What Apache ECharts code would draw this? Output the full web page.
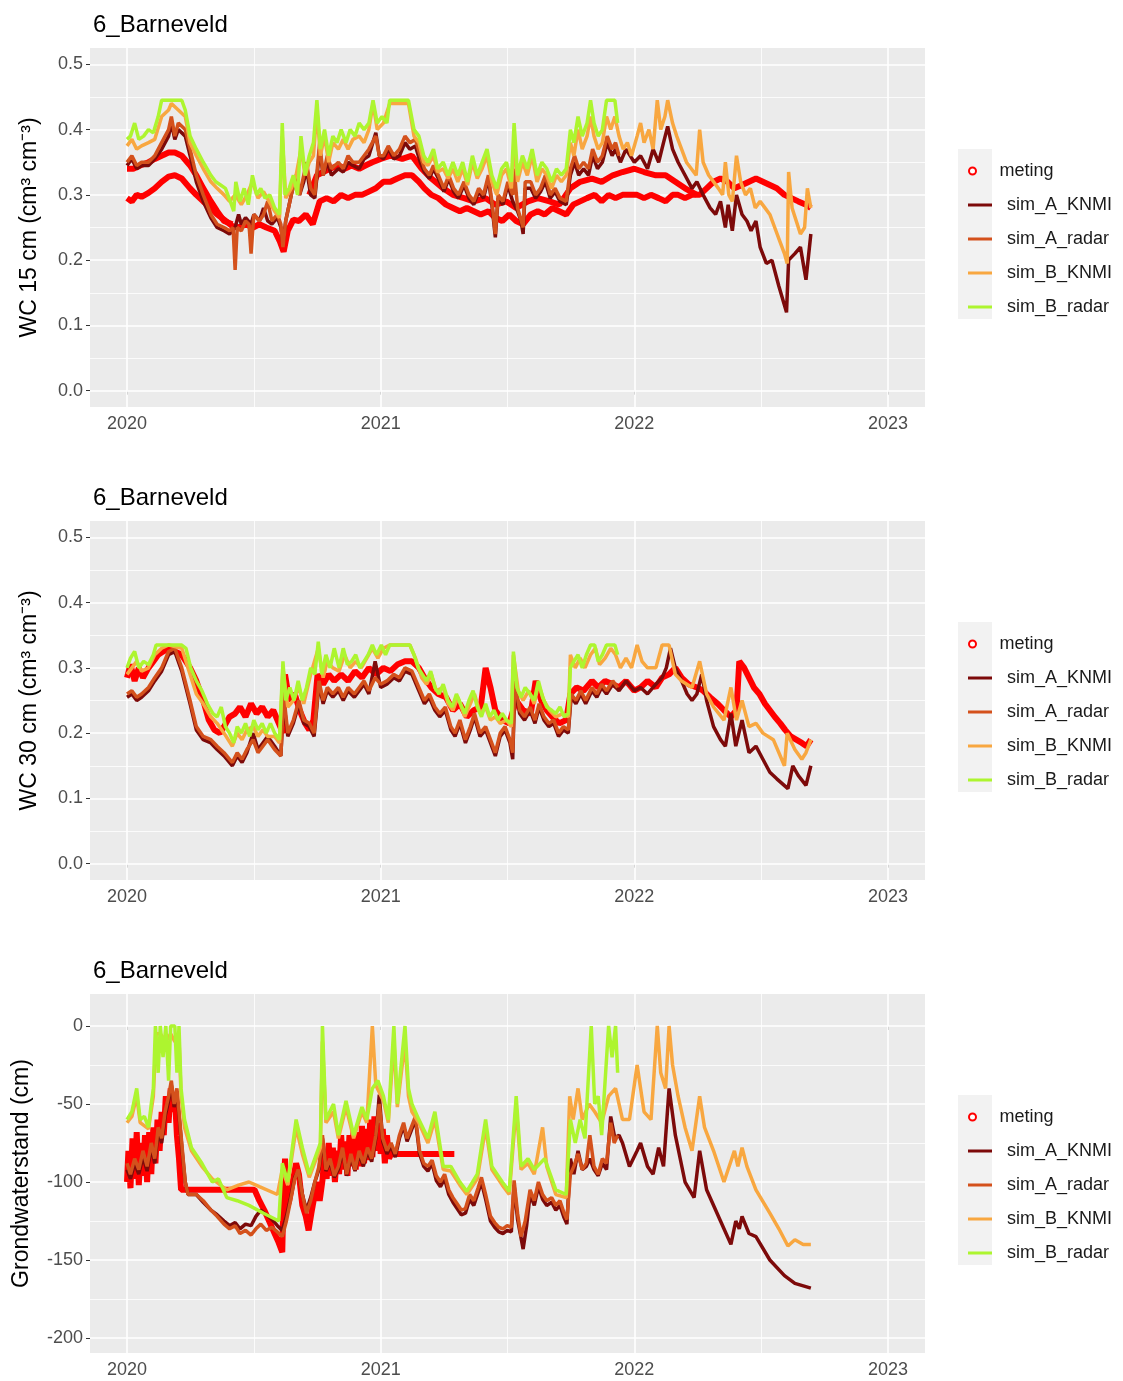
<!DOCTYPE html>
<html><head><meta charset="utf-8">
<script src="https://cdn.jsdelivr.net/npm/echarts/dist/echarts.min.js"></script>
<style>html,body{margin:0;padding:0;background:#fff}#c{width:1123px;height:1381px}</style>
</head><body><div id="c"></div>
<script>
// ---------------- DATA ----------------
const seriesNames = ['meting','sim_A_KNMI','sim_A_radar','sim_B_KNMI','sim_B_radar'];
const panelTitles = ['6_Barneveld','6_Barneveld','6_Barneveld'];
const yAxisTitles = ['WC 15 cm (cm³ cm⁻³)','WC 30 cm (cm³ cm⁻³)','Grondwaterstand (cm)'];
const xTickYears = [2020,2021,2022,2023];
const xMinorYears = [2020.5,2021.5,2022.5];
const yTicksWC = [0,0.1,0.2,0.3,0.4,0.5];
const yMinorWC = [0.05,0.15,0.25,0.35,0.45];
const yTicksGW = [-200,-150,-100,-50,0];
const yMinorGW = [-175,-125,-75,-25];

// ---- Panel 1 : WC 15 cm ----
const p1_meting_lo = [['2020-01-01',0.295],['2020-01-08',0.29],['2020-01-15',0.30],['2020-01-22',0.297],['2020-02-01',0.303],['2020-02-10',0.31],['2020-02-20',0.32],['2020-03-01',0.328],['2020-03-10',0.33],['2020-03-20',0.325],['2020-04-01',0.31],['2020-04-10',0.30],['2020-04-20',0.29],['2020-05-01',0.28],['2020-05-10',0.27],['2020-05-20',0.262],['2020-06-01',0.252],['2020-06-10',0.25],['2020-06-20',0.255],['2020-07-01',0.25],['2020-07-10',0.255],['2020-07-20',0.25],['2020-08-01',0.245],['2020-08-08',0.23],['2020-08-14',0.213],['2020-08-20',0.245],['2020-08-28',0.262],['2020-09-05',0.26],['2020-09-15',0.27],['2020-09-25',0.255],['2020-10-05',0.29],['2020-10-15',0.295],['2020-10-25',0.29],['2020-11-05',0.30],['2020-11-15',0.295],['2020-11-25',0.30],['2020-12-05',0.30],['2020-12-15',0.305],['2020-12-25',0.31],['2021-01-05',0.32],['2021-01-15',0.32],['2021-01-25',0.325],['2021-02-05',0.33],['2021-02-15',0.33],['2021-02-25',0.32],['2021-03-05',0.31],['2021-03-15',0.30],['2021-03-25',0.295],['2021-04-05',0.285],['2021-04-15',0.28],['2021-04-25',0.275],['2021-05-05',0.28],['2021-05-15',0.275],['2021-05-25',0.27],['2021-06-05',0.275],['2021-06-15',0.265],['2021-06-25',0.26],['2021-07-05',0.27],['2021-07-15',0.26],['2021-07-25',0.255],['2021-08-05',0.27],['2021-08-15',0.275],['2021-08-25',0.27],['2021-09-05',0.28],['2021-09-15',0.275],['2021-09-25',0.27],['2021-10-05',0.285],['2021-10-15',0.29],['2021-10-25',0.295],['2021-11-05',0.30],['2021-11-15',0.29],['2021-11-25',0.30],['2021-12-05',0.295],['2021-12-15',0.30],['2021-12-25',0.30],['2022-01-05',0.30],['2022-01-15',0.295],['2022-01-25',0.30],['2022-02-05',0.295],['2022-02-15',0.29],['2022-02-25',0.30],['2022-03-05',0.30],['2022-03-15',0.295],['2022-03-25',0.30],['2022-04-05',0.30],['2022-04-15',0.31],['2022-04-25',0.32],['2022-05-05',0.325],['2022-05-15',0.32],['2022-05-25',0.31],['2022-06-05',0.315],['2022-06-15',0.32],['2022-06-25',0.325],['2022-07-05',0.32],['2022-07-15',0.315],['2022-07-25',0.31],['2022-08-05',0.30],['2022-08-15',0.295],['2022-08-25',0.29],['2022-09-05',0.285],['2022-09-12',0.28]];
const p1_meting_hi = [['2020-01-01',0.34],['2020-01-10',0.34],['2020-01-20',0.345],['2020-02-01',0.35],['2020-02-10',0.355],['2020-02-20',0.36],['2020-03-01',0.365],['2020-03-10',0.365],['2020-03-20',0.36],['2020-04-01',0.345],['2020-04-10',0.33],['2020-04-20',0.31],['2020-05-01',0.29],['2020-05-10',0.275],['2020-05-20',0.26],['2020-06-01',0.255],['2020-07-01',null],['2020-09-20',0.30],['2020-10-01',0.33],['2020-10-10',0.335],['2020-10-20',0.34],['2020-11-01',0.345],['2020-11-10',0.34],['2020-11-20',0.345],['2020-12-01',0.34],['2020-12-10',0.345],['2020-12-20',0.35],['2021-01-01',0.355],['2021-01-15',0.36],['2021-02-01',0.355],['2021-02-15',0.36],['2021-03-01',0.34],['2021-03-15',0.325],['2021-04-01',0.31],['2021-04-15',0.30],['2021-05-01',0.295],['2021-05-15',0.29],['2021-06-01',0.295],['2021-06-15',0.285],['2021-07-01',0.29],['2021-07-15',0.28],['2021-08-01',0.29],['2021-08-15',0.295],['2021-09-01',0.29],['2021-09-15',0.285],['2021-10-01',0.31],['2021-10-15',0.32],['2021-11-01',0.325],['2021-11-15',0.32],['2021-12-01',0.33],['2021-12-15',0.335],['2022-01-01',0.34],['2022-01-15',0.335],['2022-02-01',0.33],['2022-02-15',0.33],['2022-03-01',0.32],['2022-03-15',0.31],['2022-04-01',0.30]];
const p1_A_KNMI = [['2020-01-01',0.345],['2020-01-08',0.355],['2020-01-15',0.34],['2020-01-22',0.345],['2020-02-01',0.345],['2020-02-10',0.355],['2020-02-20',0.37],['2020-03-01',0.39],['2020-03-05',0.41],['2020-03-10',0.385],['2020-03-15',0.40],['2020-03-25',0.39],['2020-04-01',0.36],['2020-04-10',0.32],['2020-04-20',0.29],['2020-05-01',0.265],['2020-05-10',0.25],['2020-05-20',0.245],['2020-05-28',0.24],['2020-06-05',0.25],['2020-06-10',0.27],['2020-06-14',0.255],['2020-06-20',0.265],['2020-06-28',0.255],['2020-07-02',0.27],['2020-07-10',0.26],['2020-07-16',0.28],['2020-07-22',0.26],['2020-07-28',0.255],['2020-08-05',0.265],['2020-08-10',0.25],['2020-08-13',0.225],['2020-08-17',0.26],['2020-08-25',0.30],['2020-09-01',0.33],['2020-09-06',0.30],['2020-09-12',0.32],['2020-09-16',0.34],['2020-09-22',0.30],['2020-09-28',0.295],['2020-10-05',0.37],['2020-10-10',0.33],['2020-10-16',0.35],['2020-10-22',0.33],['2020-11-01',0.34],['2020-11-08',0.335],['2020-11-15',0.35],['2020-11-22',0.345],['2020-12-01',0.34],['2020-12-08',0.355],['2020-12-15',0.36],['2020-12-25',0.395],['2020-12-30',0.36],['2021-01-05',0.355],['2021-01-12',0.37],['2021-01-20',0.355],['2021-01-28',0.36],['2021-02-05',0.38],['2021-02-12',0.37],['2021-02-20',0.375],['2021-02-27',0.35],['2021-03-05',0.335],['2021-03-12',0.325],['2021-03-18',0.34],['2021-03-25',0.325],['2021-04-02',0.305],['2021-04-09',0.325],['2021-04-16',0.305],['2021-04-23',0.295],['2021-05-01',0.315],['2021-05-08',0.295],['2021-05-15',0.285],['2021-05-22',0.305],['2021-05-29',0.295],['2021-06-05',0.325],['2021-06-10',0.285],['2021-06-15',0.235],['2021-06-19',0.295],['2021-06-26',0.285],['2021-07-03',0.315],['2021-07-10',0.29],['2021-07-17',0.275],['2021-07-22',0.26],['2021-07-25',0.24],['2021-07-28',0.31],['2021-08-05',0.31],['2021-08-12',0.295],['2021-08-19',0.305],['2021-08-26',0.32],['2021-09-02',0.295],['2021-09-09',0.305],['2021-09-16',0.29],['2021-09-25',0.285],['2021-10-01',0.33],['2021-10-07',0.35],['2021-10-13',0.33],['2021-10-20',0.34],['2021-10-27',0.33],['2021-11-02',0.36],['2021-11-09',0.34],['2021-11-16',0.35],['2021-11-23',0.38],['2021-11-30',0.36],['2021-12-05',0.37],['2021-12-12',0.35],['2021-12-20',0.37],['2022-01-01',0.35],['2022-01-10',0.36],['2022-01-20',0.34],['2022-01-28',0.37],['2022-02-05',0.35],['2022-02-12',0.38],['2022-02-18',0.405],['2022-02-25',0.37],['2022-03-05',0.35],['2022-03-15',0.33],['2022-03-25',0.31],['2022-04-01',0.32],['2022-04-10',0.30],['2022-04-20',0.28],['2022-04-28',0.27],['2022-05-05',0.29],['2022-05-12',0.25],['2022-05-16',0.285],['2022-05-22',0.245],['2022-05-28',0.30],['2022-06-05',0.27],['2022-06-12',0.26],['2022-06-18',0.245],['2022-06-25',0.26],['2022-07-01',0.22],['2022-07-10',0.195],['2022-07-18',0.20],['2022-07-28',0.16],['2022-08-08',0.12],['2022-08-11',0.20],['2022-08-20',0.21],['2022-08-28',0.22],['2022-09-05',0.17],['2022-09-12',0.24]];
const p1_A_radar = [['2020-01-01',0.35],['2020-01-08',0.36],['2020-01-15',0.345],['2020-01-22',0.35],['2020-02-01',0.35],['2020-02-10',0.36],['2020-02-20',0.38],['2020-03-01',0.40],['2020-03-05',0.42],['2020-03-10',0.39],['2020-03-15',0.41],['2020-03-25',0.40],['2020-04-01',0.37],['2020-04-10',0.33],['2020-04-20',0.30],['2020-05-01',0.27],['2020-05-10',0.255],['2020-05-20',0.25],['2020-05-28',0.245],['2020-06-02',0.25],['2020-06-05',0.185],['2020-06-08',0.25],['2020-06-14',0.245],['2020-06-20',0.26],['2020-06-25',0.255],['2020-06-28',0.21],['2020-07-02',0.27],['2020-07-10',0.26],['2020-07-16',0.27],['2020-07-22',0.29],['2020-07-28',0.26],['2020-08-05',0.27],['2020-08-10',0.255],['2020-08-13',0.22],['2020-08-17',0.26],['2020-08-25',0.30],['2020-09-01',0.33],['2020-09-06',0.30],['2020-09-12',0.33],['2020-09-16',0.35],['2020-09-22',0.31],['2020-09-28',0.30],['2020-10-05',0.38],['2020-10-10',0.33],['2020-10-16',0.36],['2020-10-22',0.34],['2020-11-01',0.35],['2020-11-08',0.34],['2020-11-15',0.36],['2020-11-22',0.35],['2020-12-01',0.35],['2020-12-08',0.36],['2020-12-15',0.37],['2020-12-25',0.39],['2020-12-30',0.36],['2021-01-05',0.36],['2021-01-12',0.375],['2021-01-20',0.36],['2021-01-28',0.37],['2021-02-05',0.39],['2021-02-12',0.38],['2021-02-20',0.385],['2021-02-27',0.36],['2021-03-05',0.34],['2021-03-12',0.33],['2021-03-18',0.345],['2021-03-25',0.33],['2021-04-02',0.31],['2021-04-09',0.33],['2021-04-16',0.31],['2021-04-23',0.30],['2021-05-01',0.32],['2021-05-08',0.30],['2021-05-15',0.29],['2021-05-22',0.31],['2021-05-29',0.30],['2021-06-05',0.33],['2021-06-10',0.29],['2021-06-15',0.24],['2021-06-19',0.30],['2021-06-26',0.29],['2021-07-03',0.32],['2021-07-10',0.30],['2021-07-12',0.34],['2021-07-17',0.28],['2021-07-25',0.25],['2021-07-28',0.32],['2021-08-05',0.32],['2021-08-12',0.30],['2021-08-19',0.31],['2021-08-26',0.33],['2021-09-02',0.30],['2021-09-09',0.31],['2021-09-16',0.295],['2021-09-25',0.29],['2021-10-01',0.34],['2021-10-07',0.36],['2021-10-13',0.34],['2021-10-20',0.35],['2021-10-27',0.34],['2021-11-02',0.37],['2021-11-09',0.35],['2021-11-16',0.36],['2021-11-23',0.39],['2021-11-30',0.37],['2021-12-05',0.38],['2021-12-10',0.36]];
const p1_B_KNMI = [['2020-01-01',0.375],['2020-01-08',0.385],['2020-01-15',0.37],['2020-01-22',0.375],['2020-02-01',0.38],['2020-02-10',0.385],['2020-02-20',0.42],['2020-03-01',0.43],['2020-03-05',0.44],['2020-03-15',0.43],['2020-03-25',0.42],['2020-04-01',0.38],['2020-04-10',0.36],['2020-04-20',0.34],['2020-05-01',0.32],['2020-05-10',0.31],['2020-05-20',0.30],['2020-05-28',0.29],['2020-06-05',0.30],['2020-06-14',0.285],['2020-06-22',0.30],['2020-06-30',0.32],['2020-07-08',0.295],['2020-07-16',0.305],['2020-07-24',0.29],['2020-08-01',0.275],['2020-08-08',0.265],['2020-08-12',0.39],['2020-08-17',0.295],['2020-08-25',0.31],['2020-09-01',0.33],['2020-09-08',0.37],['2020-09-14',0.33],['2020-09-20',0.35],['2020-09-26',0.36],['2020-10-01',0.43],['2020-10-06',0.36],['2020-10-12',0.39],['2020-10-18',0.35],['2020-10-24',0.38],['2020-11-01',0.37],['2020-11-08',0.385],['2020-11-15',0.37],['2020-11-22',0.385],['2020-12-01',0.39],['2020-12-08',0.38],['2020-12-15',0.40],['2020-12-21',0.44],['2020-12-27',0.40],['2021-01-05',0.41],['2021-01-14',0.44],['2021-02-10',0.44],['2021-02-18',0.39],['2021-02-25',0.38],['2021-03-04',0.35],['2021-03-10',0.345],['2021-03-18',0.36],['2021-03-24',0.335],['2021-04-01',0.34],['2021-04-08',0.325],['2021-04-15',0.34],['2021-04-22',0.32],['2021-04-29',0.34],['2021-05-06',0.315],['2021-05-13',0.35],['2021-05-20',0.325],['2021-05-27',0.34],['2021-06-03',0.36],['2021-06-10',0.32],['2021-06-17',0.30],['2021-06-24',0.33],['2021-07-01',0.34],['2021-07-08',0.31],['2021-07-12',0.38],['2021-07-17',0.32],['2021-07-24',0.35],['2021-07-31',0.33],['2021-08-07',0.36],['2021-08-14',0.32],['2021-08-21',0.34],['2021-08-28',0.33],['2021-09-04',0.31],['2021-09-11',0.33],['2021-09-18',0.32],['2021-09-25',0.33],['2021-10-01',0.38],['2021-10-06',0.36],['2021-10-12',0.40],['2021-10-18',0.37],['2021-10-25',0.39],['2021-10-30',0.42],['2021-11-04',0.39],['2021-11-10',0.37],['2021-11-16',0.38],['2021-11-22',0.42],['2021-11-28',0.40],['2021-12-04',0.42],['2021-12-10',0.39],['2021-12-16',0.37],['2021-12-22',0.38],['2021-12-28',0.36],['2022-01-05',0.39],['2022-01-10',0.41],['2022-01-15',0.38],['2022-01-22',0.40],['2022-01-28',0.37],['2022-02-03',0.445],['2022-02-08',0.40],['2022-02-14',0.42],['2022-02-18',0.445],['2022-02-25',0.41],['2022-03-03',0.39],['2022-03-10',0.37],['2022-03-17',0.35],['2022-03-24',0.34],['2022-03-31',0.33],['2022-04-05',0.40],['2022-04-10',0.35],['2022-04-18',0.33],['2022-04-25',0.32],['2022-05-02',0.31],['2022-05-08',0.30],['2022-05-12',0.35],['2022-05-17',0.30],['2022-05-22',0.29],['2022-05-28',0.36],['2022-06-03',0.32],['2022-06-10',0.30],['2022-06-17',0.31],['2022-06-24',0.28],['2022-07-01',0.29],['2022-07-08',0.28],['2022-07-15',0.27],['2022-07-22',0.25],['2022-07-29',0.23],['2022-08-05',0.21],['2022-08-09',0.195],['2022-08-11',0.335],['2022-08-16',0.28],['2022-08-22',0.26],['2022-08-28',0.24],['2022-09-03',0.25],['2022-09-07',0.31],['2022-09-12',0.28]];
const p1_B_radar = [['2020-01-01',0.385],['2020-01-06',0.39],['2020-01-12',0.41],['2020-01-18',0.385],['2020-01-25',0.39],['2020-02-01',0.40],['2020-02-08',0.395],['2020-02-15',0.42],['2020-02-20',0.445],['2020-03-20',0.445],['2020-03-25',0.43],['2020-04-01',0.39],['2020-04-10',0.37],['2020-04-20',0.35],['2020-05-01',0.33],['2020-05-08',0.32],['2020-05-15',0.315],['2020-05-22',0.31],['2020-05-29',0.29],['2020-06-03',0.275],['2020-06-06',0.32],['2020-06-12',0.29],['2020-06-18',0.31],['2020-06-24',0.285],['2020-06-30',0.33],['2020-07-06',0.30],['2020-07-12',0.31],['2020-07-18',0.295],['2020-07-25',0.30],['2020-08-01',0.28],['2020-08-08',0.27],['2020-08-12',0.41],['2020-08-16',0.30],['2020-08-22',0.31],['2020-08-28',0.33],['2020-09-03',0.30],['2020-09-08',0.39],['2020-09-14',0.33],['2020-09-20',0.36],['2020-09-26',0.38],['2020-10-01',0.445],['2020-10-06',0.37],['2020-10-12',0.40],['2020-10-18',0.36],['2020-10-24',0.39],['2020-10-30',0.38],['2020-11-05',0.40],['2020-11-12',0.38],['2020-11-18',0.40],['2020-11-25',0.39],['2020-12-01',0.41],['2020-12-08',0.40],['2020-12-15',0.41],['2020-12-21',0.445],['2020-12-27',0.41],['2021-01-03',0.42],['2021-01-10',0.41],['2021-01-14',0.445],['2021-02-10',0.445],['2021-02-18',0.40],['2021-02-25',0.39],['2021-03-04',0.36],['2021-03-10',0.35],['2021-03-18',0.37],['2021-03-24',0.34],['2021-04-01',0.35],['2021-04-08',0.33],['2021-04-15',0.35],['2021-04-22',0.33],['2021-04-29',0.35],['2021-05-06',0.32],['2021-05-13',0.36],['2021-05-20',0.33],['2021-05-27',0.35],['2021-06-03',0.37],['2021-06-10',0.33],['2021-06-17',0.31],['2021-06-24',0.34],['2021-07-01',0.35],['2021-07-08',0.32],['2021-07-12',0.41],['2021-07-17',0.33],['2021-07-24',0.36],['2021-07-31',0.34],['2021-08-07',0.37],['2021-08-14',0.33],['2021-08-21',0.35],['2021-08-28',0.34],['2021-09-04',0.32],['2021-09-11',0.34],['2021-09-18',0.33],['2021-09-25',0.34],['2021-10-01',0.40],['2021-10-06',0.38],['2021-10-12',0.42],['2021-10-18',0.39],['2021-10-25',0.41],['2021-10-30',0.445],['2021-11-04',0.41],['2021-11-10',0.39],['2021-11-16',0.40],['2021-11-22',0.445],['2021-12-04',0.445],['2021-12-08',0.41]];

// ---- Panel 2 : WC 30 cm ----
const p2_meting = [['2020-01-01',0.285],['2020-01-06',0.305],['2020-01-12',0.28],['2020-01-18',0.30],['2020-01-24',0.285],['2020-02-01',0.30],['2020-02-08',0.31],['2020-02-15',0.32],['2020-02-22',0.325],['2020-03-01',0.33],['2020-03-10',0.325],['2020-03-20',0.32],['2020-04-01',0.30],['2020-04-10',0.28],['2020-04-20',0.25],['2020-04-28',0.22],['2020-05-06',0.205],['2020-05-14',0.20],['2020-05-20',0.21],['2020-05-28',0.225],['2020-06-05',0.23],['2020-06-12',0.24],['2020-06-20',0.225],['2020-06-28',0.245],['2020-07-06',0.23],['2020-07-14',0.24],['2020-07-22',0.225],['2020-07-30',0.235],['2020-08-07',0.215],['2020-08-13',0.20],['2020-08-16',0.29],['2020-08-22',0.25],['2020-08-30',0.26],['2020-09-06',0.235],['2020-09-14',0.215],['2020-09-20',0.205],['2020-09-26',0.22],['2020-10-02',0.29],['2020-10-10',0.275],['2020-10-18',0.29],['2020-10-26',0.28],['2020-11-05',0.29],['2020-11-15',0.28],['2020-11-25',0.295],['2020-12-05',0.285],['2020-12-15',0.30],['2020-12-25',0.29],['2021-01-05',0.30],['2021-01-15',0.295],['2021-01-25',0.305],['2021-02-05',0.31],['2021-02-15',0.31],['2021-02-25',0.30],['2021-03-05',0.285],['2021-03-15',0.27],['2021-03-25',0.26],['2021-04-05',0.255],['2021-04-15',0.235],['2021-04-25',0.245],['2021-05-05',0.225],['2021-05-15',0.235],['2021-05-25',0.24],['2021-06-01',0.30],['2021-06-08',0.27],['2021-06-15',0.235],['2021-06-25',0.22],['2021-07-05',0.215],['2021-07-15',0.25],['2021-07-25',0.235],['2021-08-05',0.23],['2021-08-12',0.28],['2021-08-20',0.25],['2021-08-28',0.235],['2021-09-05',0.225],['2021-09-15',0.215],['2021-09-25',0.22],['2021-10-01',0.26],['2021-10-10',0.27],['2021-10-20',0.265],['2021-11-01',0.28],['2021-11-10',0.27],['2021-11-20',0.28],['2021-12-01',0.275],['2021-12-10',0.27],['2021-12-20',0.28],['2022-01-01',0.265],['2022-01-10',0.27],['2022-01-20',0.28],['2022-02-01',0.27],['2022-02-10',0.285],['2022-02-20',0.29],['2022-03-01',0.30],['2022-03-10',0.285],['2022-03-20',0.275],['2022-04-01',0.27],['2022-04-10',0.265],['2022-04-20',0.255],['2022-05-01',0.245],['2022-05-10',0.235],['2022-05-20',0.225],['2022-05-28',0.235],['2022-06-01',0.31],['2022-06-08',0.30],['2022-06-15',0.285],['2022-06-22',0.27],['2022-06-30',0.26],['2022-07-08',0.245],['2022-07-15',0.235],['2022-07-22',0.225],['2022-07-30',0.215],['2022-08-06',0.205],['2022-08-14',0.195],['2022-08-22',0.19],['2022-08-30',0.185],['2022-09-06',0.18],['2022-09-12',0.19]];
const p2_A_KNMI = [['2020-01-01',0.255],['2020-01-08',0.26],['2020-01-15',0.25],['2020-01-22',0.255],['2020-02-01',0.265],['2020-02-10',0.28],['2020-02-20',0.295],['2020-03-01',0.32],['2020-03-10',0.325],['2020-03-20',0.295],['2020-04-01',0.245],['2020-04-10',0.205],['2020-04-20',0.19],['2020-05-01',0.185],['2020-05-10',0.175],['2020-05-20',0.165],['2020-06-01',0.15],['2020-06-08',0.165],['2020-06-15',0.155],['2020-06-22',0.17],['2020-07-01',0.20],['2020-07-08',0.175],['2020-07-15',0.185],['2020-07-22',0.195],['2020-08-01',0.18],['2020-08-10',0.165],['2020-08-14',0.25],['2020-08-20',0.195],['2020-08-28',0.215],['2020-09-05',0.245],['2020-09-12',0.215],['2020-09-20',0.21],['2020-09-27',0.195],['2020-10-04',0.275],['2020-10-10',0.245],['2020-10-16',0.265],['2020-10-24',0.255],['2020-11-01',0.265],['2020-11-08',0.25],['2020-11-15',0.265],['2020-11-24',0.255],['2020-12-01',0.265],['2020-12-08',0.275],['2020-12-15',0.26],['2020-12-24',0.31],['2021-01-01',0.27],['2021-01-10',0.275],['2021-01-20',0.285],['2021-01-28',0.28],['2021-02-05',0.295],['2021-02-15',0.29],['2021-02-25',0.265],['2021-03-05',0.245],['2021-03-12',0.255],['2021-03-20',0.235],['2021-03-27',0.225],['2021-04-04',0.235],['2021-04-12',0.205],['2021-04-18',0.195],['2021-04-25',0.215],['2021-05-03',0.185],['2021-05-10',0.205],['2021-05-16',0.225],['2021-05-24',0.195],['2021-06-01',0.205],['2021-06-08',0.185],['2021-06-15',0.165],['2021-06-22',0.195],['2021-06-29',0.205],['2021-07-06',0.185],['2021-07-10',0.16],['2021-07-13',0.27],['2021-07-20',0.23],['2021-07-27',0.22],['2021-08-04',0.235],['2021-08-11',0.215],['2021-08-17',0.24],['2021-08-24',0.22],['2021-08-31',0.21],['2021-09-07',0.215],['2021-09-14',0.195],['2021-09-21',0.205],['2021-09-28',0.20],['2021-10-02',0.255],['2021-10-09',0.245],['2021-10-16',0.26],['2021-10-23',0.245],['2021-11-01',0.265],['2021-11-08',0.255],['2021-11-15',0.27],['2021-11-22',0.26],['2021-12-01',0.275],['2021-12-10',0.265],['2021-12-20',0.28],['2022-01-01',0.265],['2022-01-10',0.27],['2022-01-20',0.26],['2022-02-01',0.275],['2022-02-10',0.285],['2022-02-16',0.30],['2022-02-22',0.33],['2022-03-01',0.30],['2022-03-10',0.28],['2022-03-18',0.26],['2022-03-25',0.25],['2022-04-01',0.26],['2022-04-08',0.29],['2022-04-15',0.25],['2022-04-25',0.21],['2022-05-05',0.19],['2022-05-12',0.18],['2022-05-20',0.23],['2022-05-27',0.18],['2022-06-05',0.22],['2022-06-15',0.17],['2022-06-25',0.18],['2022-07-05',0.16],['2022-07-15',0.14],['2022-07-25',0.13],['2022-08-10',0.115],['2022-08-17',0.15],['2022-08-25',0.135],['2022-09-05',0.12],['2022-09-12',0.15]];
const p2_A_radar = [['2020-01-01',0.26],['2020-01-08',0.265],['2020-01-15',0.255],['2020-01-22',0.26],['2020-02-01',0.27],['2020-02-10',0.285],['2020-02-20',0.30],['2020-03-01',0.325],['2020-03-10',0.33],['2020-03-20',0.30],['2020-04-01',0.25],['2020-04-10',0.21],['2020-04-20',0.195],['2020-05-01',0.19],['2020-05-10',0.18],['2020-05-20',0.17],['2020-06-01',0.155],['2020-06-08',0.17],['2020-06-15',0.16],['2020-06-22',0.175],['2020-07-01',0.19],['2020-07-08',0.17],['2020-07-15',0.18],['2020-07-22',0.19],['2020-08-01',0.175],['2020-08-10',0.165],['2020-08-14',0.26],['2020-08-20',0.20],['2020-08-28',0.22],['2020-09-05',0.25],['2020-09-12',0.22],['2020-09-20',0.215],['2020-09-27',0.20],['2020-10-04',0.28],['2020-10-10',0.25],['2020-10-16',0.27],['2020-10-24',0.26],['2020-11-01',0.27],['2020-11-08',0.255],['2020-11-15',0.27],['2020-11-24',0.26],['2020-12-01',0.27],['2020-12-08',0.28],['2020-12-15',0.265],['2020-12-24',0.285],['2021-01-01',0.275],['2021-01-10',0.28],['2021-01-20',0.29],['2021-01-28',0.285],['2021-02-05',0.30],['2021-02-15',0.295],['2021-02-25',0.27],['2021-03-05',0.25],['2021-03-12',0.26],['2021-03-20',0.24],['2021-03-27',0.23],['2021-04-04',0.24],['2021-04-12',0.21],['2021-04-18',0.20],['2021-04-25',0.22],['2021-05-03',0.19],['2021-05-10',0.21],['2021-05-16',0.23],['2021-05-24',0.20],['2021-06-01',0.21],['2021-06-08',0.19],['2021-06-15',0.17],['2021-06-22',0.20],['2021-06-29',0.21],['2021-07-06',0.19],['2021-07-10',0.17],['2021-07-13',0.28],['2021-07-20',0.235],['2021-07-27',0.225],['2021-08-04',0.24],['2021-08-11',0.22],['2021-08-17',0.245],['2021-08-24',0.225],['2021-08-31',0.215],['2021-09-07',0.22],['2021-09-14',0.20],['2021-09-21',0.21],['2021-09-28',0.205],['2021-10-02',0.26],['2021-10-09',0.25],['2021-10-16',0.265],['2021-10-23',0.25],['2021-11-01',0.27],['2021-11-08',0.26],['2021-11-15',0.275],['2021-11-22',0.265],['2021-12-01',0.28],['2021-12-08',0.27]];
const p2_B_KNMI = [['2020-01-01',0.29],['2020-01-08',0.30],['2020-01-15',0.31],['2020-01-22',0.295],['2020-02-01',0.30],['2020-02-10',0.32],['2020-02-20',0.33],['2020-03-01',0.335],['2020-03-20',0.33],['2020-04-01',0.29],['2020-04-10',0.26],['2020-04-20',0.245],['2020-05-01',0.225],['2020-05-10',0.215],['2020-05-20',0.20],['2020-06-01',0.18],['2020-06-08',0.20],['2020-06-15',0.19],['2020-06-22',0.205],['2020-07-01',0.21],['2020-07-08',0.195],['2020-07-15',0.205],['2020-07-22',0.195],['2020-08-01',0.195],['2020-08-08',0.185],['2020-08-13',0.30],['2020-08-20',0.24],['2020-08-28',0.25],['2020-09-05',0.27],['2020-09-12',0.245],['2020-09-22',0.29],['2020-10-03',0.33],['2020-10-10',0.285],['2020-10-16',0.31],['2020-10-24',0.30],['2020-11-02',0.295],['2020-11-10',0.32],['2020-11-18',0.30],['2020-11-26',0.31],['2020-12-04',0.30],['2020-12-12',0.315],['2020-12-20',0.33],['2020-12-28',0.315],['2021-01-05',0.33],['2021-01-14',0.335],['2021-02-12',0.335],['2021-02-20',0.315],['2021-03-01',0.285],['2021-03-08',0.275],['2021-03-15',0.29],['2021-03-22',0.265],['2021-04-01',0.27],['2021-04-08',0.245],['2021-04-15',0.235],['2021-04-22',0.255],['2021-05-02',0.225],['2021-05-10',0.245],['2021-05-16',0.26],['2021-05-24',0.23],['2021-06-01',0.24],['2021-06-08',0.22],['2021-06-15',0.225],['2021-06-22',0.215],['2021-07-01',0.22],['2021-07-08',0.21],['2021-07-11',0.32],['2021-07-18',0.265],['2021-07-25',0.25],['2021-08-02',0.265],['2021-08-10',0.245],['2021-08-16',0.275],['2021-08-24',0.25],['2021-09-01',0.235],['2021-09-10',0.225],['2021-09-20',0.23],['2021-09-28',0.225],['2021-10-01',0.32],['2021-10-08',0.30],['2021-10-15',0.315],['2021-10-22',0.30],['2021-10-30',0.32],['2021-11-06',0.33],['2021-11-12',0.305],['2021-11-20',0.315],['2021-11-28',0.33],['2021-12-05',0.32],['2021-12-12',0.30],['2021-12-20',0.315],['2021-12-28',0.30],['2022-01-05',0.335],['2022-01-12',0.31],['2022-01-20',0.30],['2022-02-01',0.30],['2022-02-10',0.335],['2022-02-20',0.335],['2022-03-01',0.29],['2022-03-10',0.28],['2022-03-25',0.27],['2022-04-05',0.31],['2022-04-15',0.26],['2022-04-25',0.24],['2022-05-10',0.22],['2022-05-20',0.27],['2022-05-28',0.22],['2022-06-05',0.25],['2022-06-15',0.21],['2022-06-25',0.215],['2022-07-05',0.20],['2022-07-20',0.19],['2022-08-05',0.15],['2022-08-09',0.20],['2022-08-20',0.175],['2022-08-30',0.16],['2022-09-05',0.17],['2022-09-12',0.19]];
const p2_B_radar = [['2020-01-01',0.30],['2020-01-06',0.315],['2020-01-12',0.325],['2020-01-18',0.30],['2020-01-25',0.31],['2020-02-01',0.305],['2020-02-08',0.32],['2020-02-12',0.335],['2020-03-20',0.335],['2020-03-26',0.33],['2020-04-02',0.30],['2020-04-10',0.28],['2020-04-18',0.265],['2020-04-26',0.245],['2020-05-04',0.23],['2020-05-10',0.225],['2020-05-16',0.24],['2020-05-22',0.21],['2020-05-28',0.20],['2020-06-03',0.185],['2020-06-08',0.21],['2020-06-14',0.20],['2020-06-20',0.215],['2020-06-26',0.195],['2020-07-02',0.22],['2020-07-08',0.205],['2020-07-14',0.215],['2020-07-20',0.20],['2020-07-26',0.215],['2020-08-01',0.20],['2020-08-08',0.19],['2020-08-13',0.31],['2020-08-17',0.25],['2020-08-23',0.27],['2020-08-29',0.25],['2020-09-04',0.28],['2020-09-10',0.25],['2020-09-16',0.27],['2020-09-22',0.30],['2020-09-28',0.29],['2020-10-03',0.34],['2020-10-08',0.29],['2020-10-14',0.32],['2020-10-20',0.30],['2020-10-26',0.33],['2020-11-02',0.30],['2020-11-08',0.33],['2020-11-14',0.305],['2020-11-20',0.31],['2020-11-26',0.32],['2020-12-02',0.30],['2020-12-08',0.31],['2020-12-14',0.32],['2020-12-20',0.335],['2020-12-26',0.32],['2021-01-02',0.335],['2021-01-08',0.32],['2021-01-14',0.335],['2021-02-12',0.335],['2021-02-18',0.32],['2021-02-24',0.30],['2021-03-02',0.29],['2021-03-08',0.28],['2021-03-14',0.295],['2021-03-20',0.27],['2021-03-26',0.26],['2021-04-01',0.275],['2021-04-08',0.25],['2021-04-14',0.24],['2021-04-20',0.26],['2021-04-26',0.245],['2021-05-02',0.23],['2021-05-08',0.25],['2021-05-14',0.265],['2021-05-20',0.24],['2021-05-26',0.225],['2021-06-01',0.245],['2021-06-07',0.225],['2021-06-13',0.235],['2021-06-19',0.22],['2021-06-25',0.23],['2021-07-01',0.22],['2021-07-08',0.215],['2021-07-11',0.325],['2021-07-16',0.27],['2021-07-22',0.255],['2021-07-28',0.27],['2021-08-04',0.26],['2021-08-10',0.25],['2021-08-16',0.28],['2021-08-22',0.255],['2021-08-28',0.24],['2021-09-04',0.235],['2021-09-10',0.23],['2021-09-16',0.24],['2021-09-22',0.225],['2021-09-28',0.23],['2021-10-01',0.30],['2021-10-06',0.31],['2021-10-12',0.32],['2021-10-18',0.30],['2021-10-24',0.32],['2021-10-30',0.335],['2021-11-05',0.335],['2021-11-10',0.31],['2021-11-16',0.32],['2021-11-22',0.335],['2021-12-04',0.335],['2021-12-08',0.32]];

// ---- Panel 3 : Grondwaterstand ----
const p3_meting = [['2020-01-01',-100],['2020-01-03',-80],['2020-01-06',-104],['2020-01-09',-72],['2020-01-12',-98],['2020-01-15',-68],['2020-01-18',-102],['2020-01-21',-75],['2020-01-24',-96],['2020-01-27',-70],['2020-01-30',-100],['2020-02-02',-68],['2020-02-05',-95],['2020-02-08',-65],['2020-02-11',-88],['2020-02-14',-60],['2020-02-17',-80],['2020-02-20',-55],['2020-02-23',-70],['2020-02-26',-45],['2020-03-01',-62],['2020-03-04',-40],['2020-03-07',-55],['2020-03-10',-45],['2020-03-13',-70],['2020-03-16',-85],['2020-03-19',-105],['2020-07-03',-105],['2020-07-10',-112],['2020-07-17',-118],['2020-07-24',-125],['2020-07-31',-132],['2020-08-06',-138],['2020-08-12',-145],['2020-08-14',-105],['2020-08-16',-85],['2020-08-18',-118],['2020-08-22',-112],['2020-08-27',-100],['2020-09-01',-88],['2020-09-05',-95],['2020-09-10',-115],['2020-09-15',-122],['2020-09-19',-131],['2020-09-23',-120],['2020-09-27',-110],['2020-10-01',-100],['2020-10-05',-112],['2020-10-09',-99],['2020-10-12',-82],['2020-10-15',-98],['2020-10-18',-75],['2020-10-21',-96],['2020-10-24',-78],['2020-10-27',-100],['2020-10-30',-80],['2020-11-02',-95],['2020-11-05',-70],['2020-11-08',-92],['2020-11-11',-74],['2020-11-14',-96],['2020-11-17',-70],['2020-11-20',-90],['2020-11-23',-66],['2020-11-26',-92],['2020-11-29',-68],['2020-12-02',-90],['2020-12-05',-64],['2020-12-08',-88],['2020-12-11',-66],['2020-12-14',-86],['2020-12-17',-60],['2020-12-20',-84],['2020-12-23',-58],['2020-12-26',-80],['2020-12-29',-62],['2021-01-01',-82],['2021-01-04',-66],['2021-01-07',-88],['2021-01-10',-70],['2021-01-13',-85],['2021-01-16',-82],['2021-04-17',-82]];
const p3_A_KNMI = [['2020-01-01',-92],['2020-01-06',-98],['2020-01-12',-88],['2020-01-18',-95],['2020-01-24',-84],['2020-01-30',-93],['2020-02-05',-78],['2020-02-10',-88],['2020-02-15',-68],['2020-02-20',-75],['2020-02-25',-58],['2020-03-01',-48],['2020-03-05',-38],['2020-03-09',-52],['2020-03-13',-42],['2020-03-17',-62],['2020-03-21',-82],['2020-03-25',-100],['2020-03-29',-108],['2020-04-10',-108],['2020-04-20',-113],['2020-05-01',-118],['2020-05-10',-121],['2020-05-20',-125],['2020-05-28',-128],['2020-06-05',-126],['2020-06-12',-130],['2020-06-20',-127],['2020-06-28',-128],['2020-07-05',-122],['2020-07-12',-118],['2020-07-20',-121],['2020-07-28',-124],['2020-08-05',-128],['2020-08-12',-131],['2020-08-18',-122],['2020-08-24',-110],['2020-08-30',-97],['2020-09-04',-93],['2020-09-10',-108],['2020-09-16',-118],['2020-09-22',-110],['2020-09-28',-100],['2020-10-04',-92],['2020-10-09',-72],['2020-10-14',-93],['2020-10-20',-87],['2020-10-26',-97],['2020-11-01',-92],['2020-11-07',-80],['2020-11-13',-96],['2020-11-19',-84],['2020-11-25',-93],['2020-12-01',-82],['2020-12-07',-90],['2020-12-13',-80],['2020-12-19',-87],['2020-12-25',-72],['2020-12-30',-44],['2021-01-04',-74],['2021-01-10',-82],['2021-01-16',-77],['2021-01-22',-84],['2021-01-28',-72],['2021-02-03',-64],['2021-02-08',-74],['2021-02-14',-67],['2021-02-20',-60],['2021-02-26',-82],['2021-03-04',-90],['2021-03-10',-93],['2021-03-16',-88],['2021-03-22',-99],['2021-03-28',-103],['2021-04-03',-98],['2021-04-09',-108],['2021-04-15',-113],['2021-04-21',-117],['2021-04-27',-121],['2021-05-03',-120],['2021-05-09',-111],['2021-05-15',-115],['2021-05-21',-107],['2021-05-26',-100],['2021-06-01',-111],['2021-06-08',-125],['2021-06-14',-129],['2021-06-20',-132],['2021-06-26',-133],['2021-07-02',-131],['2021-07-08',-132],['2021-07-12',-102],['2021-07-17',-124],['2021-07-25',-143],['2021-07-30',-128],['2021-08-04',-108],['2021-08-10',-115],['2021-08-16',-103],['2021-08-22',-111],['2021-08-28',-115],['2021-09-04',-113],['2021-09-10',-118],['2021-09-16',-115],['2021-09-22',-123],['2021-09-26',-127],['2021-10-01',-85],['2021-10-06',-95],['2021-10-12',-80],['2021-10-18',-92],['2021-10-24',-90],['2021-10-29',-85],['2021-11-04',-92],['2021-11-10',-96],['2021-11-16',-88],['2021-11-22',-92],['2021-11-28',-58],['2021-12-04',-72],['2021-12-10',-70],['2021-12-15',-75],['2021-12-25',-90],['2022-01-05',-80],['2022-01-10',-75],['2022-01-20',-90],['2022-01-28',-95],['2022-02-05',-78],['2022-02-12',-90],['2022-02-20',-40],['2022-03-01',-70],['2022-03-15',-100],['2022-03-28',-110],['2022-04-05',-80],['2022-04-15',-105],['2022-05-05',-125],['2022-05-20',-140],['2022-05-27',-125],['2022-06-01',-130],['2022-06-05',-122],['2022-06-15',-133],['2022-06-25',-135],['2022-07-15',-150],['2022-08-05',-160],['2022-08-20',-165],['2022-09-12',-168]];
const p3_A_radar = [['2020-01-01',-88],['2020-01-06',-95],['2020-01-12',-85],['2020-01-18',-92],['2020-01-24',-80],['2020-01-30',-90],['2020-02-05',-75],['2020-02-10',-85],['2020-02-15',-65],['2020-02-20',-72],['2020-02-25',-55],['2020-03-01',-45],['2020-03-05',-35],['2020-03-09',-50],['2020-03-13',-40],['2020-03-17',-60],['2020-03-21',-80],['2020-03-25',-100],['2020-03-29',-108],['2020-04-10',-108],['2020-04-20',-112],['2020-05-01',-118],['2020-05-10',-122],['2020-05-20',-127],['2020-05-28',-130],['2020-06-05',-128],['2020-06-12',-133],['2020-06-20',-131],['2020-06-28',-134],['2020-07-05',-130],['2020-07-12',-127],['2020-07-20',-131],['2020-07-28',-129],['2020-08-05',-132],['2020-08-12',-135],['2020-08-18',-125],['2020-08-24',-112],['2020-08-30',-98],['2020-09-04',-92],['2020-09-10',-108],['2020-09-16',-120],['2020-09-22',-112],['2020-09-28',-100],['2020-10-04',-90],['2020-10-09',-70],['2020-10-14',-92],['2020-10-20',-85],['2020-10-26',-96],['2020-11-01',-90],['2020-11-07',-78],['2020-11-13',-95],['2020-11-19',-82],['2020-11-25',-92],['2020-12-01',-80],['2020-12-07',-88],['2020-12-13',-78],['2020-12-19',-85],['2020-12-25',-70],['2020-12-30',-50],['2021-01-04',-72],['2021-01-10',-80],['2021-01-16',-75],['2021-01-22',-82],['2021-01-28',-70],['2021-02-03',-62],['2021-02-08',-72],['2021-02-14',-65],['2021-02-20',-58],['2021-02-26',-80],['2021-03-04',-88],['2021-03-10',-90],['2021-03-16',-86],['2021-03-22',-96],['2021-03-28',-100],['2021-04-03',-95],['2021-04-09',-105],['2021-04-15',-110],['2021-04-21',-114],['2021-04-27',-118],['2021-05-03',-117],['2021-05-09',-108],['2021-05-15',-112],['2021-05-21',-104],['2021-05-26',-97],['2021-06-01',-108],['2021-06-08',-122],['2021-06-14',-126],['2021-06-20',-129],['2021-06-26',-130],['2021-07-02',-128],['2021-07-08',-129],['2021-07-12',-99],['2021-07-17',-120],['2021-07-22',-135],['2021-07-28',-125],['2021-08-04',-105],['2021-08-10',-112],['2021-08-16',-100],['2021-08-22',-108],['2021-08-28',-112],['2021-09-04',-110],['2021-09-10',-115],['2021-09-16',-112],['2021-09-22',-120],['2021-09-26',-124],['2021-10-01',-95],['2021-10-06',-90],['2021-10-12',-82],['2021-10-18',-92],['2021-10-24',-88],['2021-10-29',-70],['2021-11-04',-90],['2021-11-10',-95],['2021-11-16',-85],['2021-11-22',-88],['2021-11-28',-62],['2021-12-03',-75],['2021-12-08',-70]];
const p3_B_KNMI = [['2020-01-01',-62],['2020-01-08',-58],['2020-01-15',-45],['2020-01-20',-62],['2020-02-01',-66],['2020-02-08',-45],['2020-02-12',-5],['2020-02-18',-5],['2020-02-26',-10],['2020-03-04',-5],['2020-03-10',-10],['2020-03-16',-8],['2020-03-19',-45],['2020-03-24',-65],['2020-04-03',-80],['2020-04-18',-90],['2020-05-03',-98],['2020-05-24',-105],['2020-06-10',-102],['2020-06-25',-100],['2020-07-10',-103],['2020-08-05',-108],['2020-08-12',-92],['2020-08-20',-102],['2020-09-01',-65],['2020-09-10',-82],['2020-09-20',-97],['2020-10-06',-78],['2020-10-09',-10],['2020-10-14',-62],['2020-10-25',-55],['2020-11-01',-72],['2020-11-12',-52],['2020-11-23',-72],['2020-12-05',-55],['2020-12-12',-62],['2020-12-20',0],['2020-12-25',-38],['2021-01-05',-48],['2021-01-12',-62],['2021-01-20',-10],['2021-01-25',-52],['2021-02-05',-10],['2021-02-10',-45],['2021-02-15',-55],['2021-02-25',-62],['2021-03-10',-75],['2021-03-20',-60],['2021-04-01',-92],['2021-04-12',-93],['2021-04-25',-102],['2021-05-05',-108],['2021-05-20',-98],['2021-06-01',-65],['2021-06-10',-92],['2021-06-25',-102],['2021-07-05',-108],['2021-07-15',-52],['2021-07-22',-92],['2021-08-01',-88],['2021-08-10',-95],['2021-08-22',-65],['2021-08-28',-90],['2021-09-10',-108],['2021-09-25',-110],['2021-09-30',-45],['2021-10-05',-60],['2021-10-12',-40],['2021-10-18',-60],['2021-10-28',-50],['2021-11-05',-55],['2021-11-15',-62],['2021-11-25',-45],['2021-12-05',-40],['2021-12-15',-60],['2021-12-25',-60],['2022-01-05',-25],['2022-01-15',-55],['2022-01-25',-60],['2022-02-03',0],['2022-02-08',-30],['2022-02-15',-40],['2022-02-20',0],['2022-02-25',-25],['2022-03-05',-45],['2022-03-15',-65],['2022-03-25',-80],['2022-04-05',-45],['2022-04-12',-65],['2022-04-25',-80],['2022-05-10',-100],['2022-05-25',-80],['2022-05-30',-90],['2022-06-05',-78],['2022-06-12',-90],['2022-06-25',-105],['2022-07-15',-120],['2022-07-28',-130],['2022-08-10',-141],['2022-08-20',-137],['2022-09-01',-140],['2022-09-12',-140]];
const p3_B_radar = [['2020-01-01',-60],['2020-01-08',-55],['2020-01-15',-40],['2020-01-20',-60],['2020-01-26',-58],['2020-02-01',-65],['2020-02-05',-50],['2020-02-08',-40],['2020-02-11',0],['2020-02-15',-30],['2020-02-18',0],['2020-02-22',-20],['2020-02-26',0],['2020-03-01',-35],['2020-03-04',0],['2020-03-10',0],['2020-03-13',-30],['2020-03-16',0],['2020-03-19',-40],['2020-03-24',-60],['2020-04-03',-78],['2020-04-18',-88],['2020-05-03',-100],['2020-05-12',-98],['2020-05-24',-110],['2020-06-08',-112],['2020-06-25',-115],['2020-07-16',-120],['2020-08-07',-125],['2020-08-12',-88],['2020-08-20',-100],['2020-09-01',-60],['2020-09-10',-78],['2020-09-20',-95],['2020-10-06',-75],['2020-10-09',0],['2020-10-14',-60],['2020-10-25',-50],['2020-11-01',-70],['2020-11-12',-48],['2020-11-23',-70],['2020-12-05',-52],['2020-12-12',-60],['2020-12-20',-40],['2020-12-28',-35],['2021-01-05',-45],['2021-01-12',-60],['2021-01-20',0],['2021-01-25',-50],['2021-02-05',0],['2021-02-10',-40],['2021-02-15',-50],['2021-02-25',-60],['2021-03-10',-72],['2021-03-20',-55],['2021-04-01',-90],['2021-04-12',-90],['2021-04-25',-100],['2021-05-05',-106],['2021-05-20',-95],['2021-06-01',-60],['2021-06-10',-90],['2021-06-25',-100],['2021-07-05',-106],['2021-07-15',-45],['2021-07-22',-90],['2021-08-01',-85],['2021-08-10',-92],['2021-08-25',-85],['2021-09-10',-105],['2021-09-25',-108],['2021-10-01',-60],['2021-10-08',-75],['2021-10-15',-60],['2021-10-22',-72],['2021-10-31',0],['2021-11-05',-50],['2021-11-10',-45],['2021-11-15',-70],['2021-11-25',0],['2021-11-30',-20],['2021-12-05',0],['2021-12-08',-30]];

// ---------------- CHART ----------------
const FONT = '"Liberation Sans", Arial, Helvetica, sans-serif';
const COLORS = {meting:'#FF0000', sim_A_KNMI:'#7D0A0A', sim_A_radar:'#D4511C', sim_B_KNMI:'#F8A740', sim_B_radar:'#ADF52F'};
const panels = [
  {meting:[p1_meting_lo,p1_meting_hi], sims:[p1_A_KNMI,p1_A_radar,p1_B_KNMI,p1_B_radar], ymin:-0.025, ymax:0.525, ticks:yTicksWC, minor:yMinorWC, fmt:v=>v.toFixed(1), gap:49},
  {meting:[p2_meting], sims:[p2_A_KNMI,p2_A_radar,p2_B_KNMI,p2_B_radar], ymin:-0.025, ymax:0.525, ticks:yTicksWC, minor:yMinorWC, fmt:v=>v.toFixed(1), gap:49},
  {meting:[p3_meting], sims:[p3_A_KNMI,p3_A_radar,p3_B_KNMI,p3_B_radar], ymin:-209.6, ymax:20.5, ticks:yTicksGW, minor:yMinorGW, fmt:v=>String(Math.round(v)), gap:57}
];
const tops = [48, 521, 994];
const PH = 359;

function dy(s){
  const [y,m,d] = s.split('-').map(Number);
  const t = Date.UTC(y,m-1,d), t0 = Date.UTC(y,0,1), t1 = Date.UTC(y+1,0,1);
  return y + (t-t0)/(t1-t0);
}
const toXY = arr => arr.map(p => [dy(p[0]), p[1]]);

const option = {animation:false, backgroundColor:'#fff', title:[], grid:[], xAxis:[], yAxis:[], series:[], legend:[], graphic:[]};

panels.forEach((P,i)=>{
  const top = tops[i];
  const off = top - 48;
  option.title.push({text:panelTitles[i], left:88, top:8+off, textStyle:{fontFamily:FONT, fontSize:24, fontWeight:'normal', color:'#000'}});
  option.grid.push({left:90, top:top, width:835, height:PH, show:true, backgroundColor:'#EBEBEB', borderWidth:0, containLabel:false});
  option.xAxis.push({type:'value', gridIndex:i, min:2019.8541, max:2023.1459, splitNumber:3,
    axisLine:{show:false}, splitLine:{show:false},
    axisTick:{show:true, length:4, customValues:xTickYears, lineStyle:{color:'#333', width:1}},
    axisLabel:{customValues:xTickYears, margin:8, color:'#4D4D4D', fontSize:18, fontFamily:FONT,
      formatter:v=>Math.abs(v-Math.round(v))<1e-6?String(Math.round(v)):''}});
  option.yAxis.push({type:'value', gridIndex:i, min:P.ymin, max:P.ymax,
    name:yAxisTitles[i], nameLocation:'middle', nameGap:P.gap,
    nameTextStyle:{fontFamily:FONT, fontSize:23, color:'#000'},
    axisLine:{show:false}, splitLine:{show:false},
    axisTick:{show:true, length:4, customValues:P.ticks, lineStyle:{color:'#333', width:1}},
    axisLabel:{customValues:P.ticks, margin:7, color:'#4D4D4D', fontSize:18, fontFamily:FONT,
      formatter:v=>P.ticks.some(t=>Math.abs(t-v)<1e-9)?P.fmt(v):''}});
  // grid lines (ggplot style)
  const major = {color:'#FFFFFF', width:1.6, type:'solid'};
  const minorS = {color:'#FFFFFF', width:0.8, type:'solid'};
  const ml = [];
  P.minor.forEach(v=>ml.push({yAxis:v, lineStyle:minorS}));
  xMinorYears.forEach(v=>ml.push({xAxis:v, lineStyle:minorS}));
  P.ticks.forEach(v=>ml.push({yAxis:v, lineStyle:major}));
  xTickYears.forEach(v=>ml.push({xAxis:v, lineStyle:major}));
  option.series.push({name:'_grid', type:'line', xAxisIndex:i, yAxisIndex:i, data:[], silent:true, z:1,
    markLine:{silent:true, z:1, symbol:['none','none'], label:{show:false}, animation:false, emphasis:{disabled:true}, data:ml}});
  // meting
  P.meting.forEach(arr=>{
    option.series.push({name:'meting', type:'line', xAxisIndex:i, yAxisIndex:i, data:toXY(arr),
      showSymbol:false, symbol:'emptyCircle', z:2, connectNulls:false,
      itemStyle:{color:COLORS.meting}, lineStyle:{color:COLORS.meting, width:6}});
  });
  // simulations
  ['sim_A_KNMI','sim_A_radar','sim_B_KNMI','sim_B_radar'].forEach((nm,k)=>{
    option.series.push({name:nm, type:'line', xAxisIndex:i, yAxisIndex:i, data:toXY(P.sims[k]),
      showSymbol:false, symbol:'none', z:3+k,
      itemStyle:{color:COLORS[nm]}, lineStyle:{color:COLORS[nm], width:3.5}});
  });
  // legend key background
  option.graphic.push({type:'rect', left:958, top:149+off, shape:{width:34, height:170}, style:{fill:'#F2F2F2'}, silent:true, z:0});
  option.legend.push({orient:'vertical', left:963, top:156+off, itemWidth:24, itemHeight:7, icon:'emptyCircle',
    data:['meting'], selectedMode:false,
    textStyle:{fontFamily:FONT, fontSize:18, color:'#1A1A1A', lineHeight:20, padding:[0,0,0,10]}});
  option.legend.push({orient:'vertical', left:963, top:190+off, itemWidth:24, itemHeight:3, icon:'rect', itemGap:14,
    data:['sim_A_KNMI','sim_A_radar','sim_B_KNMI','sim_B_radar'], selectedMode:false,
    textStyle:{fontFamily:FONT, fontSize:18, color:'#1A1A1A', lineHeight:20, padding:[0,0,0,10]}});
});

const chart = echarts.init(document.getElementById('c'), null, {renderer:'canvas', width:1123, height:1381});
chart.setOption(option);
</script></body></html>
